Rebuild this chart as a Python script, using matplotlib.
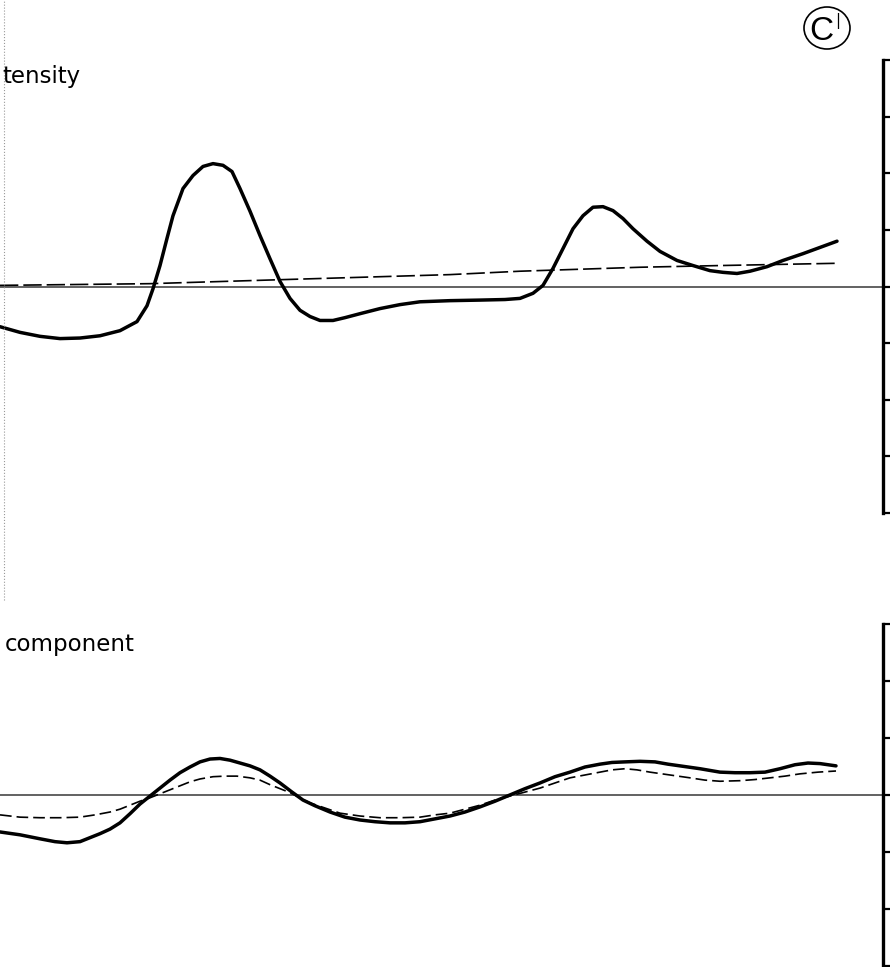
import matplotlib
matplotlib.use("Agg")
import matplotlib.pyplot as plt
from matplotlib.patches import Ellipse

plt.rcParams['font.family'] = ['DejaVu Sans']

# horizontal position along the trace (arbitrary units, 0 .. 883 = axis)
# values in tick units (one tick = 1)

# upper panel: intensity
top_x = [0, 20, 40, 60, 80, 100, 120, 137, 147, 153, 160, 167, 173, 183, 193, 203,
         213, 223, 232, 240, 250, 260, 270, 280, 290, 300, 310, 320, 333, 345, 360,
         380, 400, 420, 450, 480, 505, 520, 533, 543, 553, 563, 573, 583, 593, 603,
         613, 623, 633, 647, 660, 677, 693, 710, 723, 737, 750, 767, 783, 803, 820, 837]
top_solid = [-0.71, -0.81, -0.88, -0.92, -0.91, -0.87, -0.78, -0.62, -0.34, -0.04,
             0.37, 0.85, 1.25, 1.73, 1.96, 2.12, 2.17, 2.14, 2.03, 1.73, 1.33, 0.90,
             0.49, 0.09, -0.21, -0.42, -0.53, -0.60, -0.60, -0.55, -0.48, -0.39, -0.32,
             -0.27, -0.25, -0.24, -0.23, -0.21, -0.12, 0.02, 0.32, 0.67, 1.02, 1.25,
             1.40, 1.41, 1.34, 1.20, 1.02, 0.80, 0.62, 0.46, 0.37, 0.28, 0.25, 0.23,
             0.27, 0.35, 0.46, 0.58, 0.69, 0.80]
top_dash_x = [0, 150, 280, 450, 520, 640, 720, 837]
top_dash = [0.02, 0.05, 0.12, 0.21, 0.27, 0.34, 0.37, 0.41]

# lower panel: component
bot_x = [0, 20, 40, 55, 67, 80, 90, 100, 110, 120, 130, 140, 150, 160, 170, 180, 190,
         200, 210, 220, 230, 240, 250, 260, 270, 280, 292, 303, 315, 330, 345, 360,
         375, 390, 405, 420, 435, 450, 465, 480, 495, 510, 525, 540, 555, 570, 585,
         600, 612, 625, 640, 655, 668, 680, 700, 720, 735, 750, 765, 780, 795, 808,
         820, 836]
bot_solid = [-0.65, -0.70, -0.77, -0.82, -0.84, -0.82, -0.75, -0.68, -0.60, -0.49,
             -0.33, -0.16, -0.02, 0.12, 0.26, 0.39, 0.49, 0.58, 0.63, 0.64, 0.61, 0.56,
             0.51, 0.44, 0.33, 0.21, 0.05, -0.09, -0.19, -0.30, -0.39, -0.44, -0.47,
             -0.49, -0.49, -0.47, -0.42, -0.37, -0.30, -0.21, -0.11, 0.00, 0.11, 0.21,
             0.32, 0.40, 0.49, 0.54, 0.57, 0.58, 0.59, 0.58, 0.54, 0.51, 0.46, 0.40,
             0.39, 0.39, 0.40, 0.46, 0.53, 0.56, 0.55, 0.51]
bot_dash_x = [0, 20, 40, 60, 80, 95, 110, 120, 130, 140, 150, 160, 170, 180, 190, 200,
              213, 225, 237, 250, 260, 270, 280, 290, 300, 310, 325, 340, 360, 380,
              400, 420, 435, 450, 465, 480, 495, 510, 525, 540, 555, 570, 585, 600,
              612, 625, 637, 650, 670, 690, 705, 720, 740, 755, 770, 785, 800, 818, 836]
bot_dash = [-0.35, -0.39, -0.40, -0.40, -0.39, -0.35, -0.30, -0.25, -0.18, -0.11,
            -0.05, 0.02, 0.09, 0.16, 0.23, 0.28, 0.32, 0.33, 0.33, 0.30, 0.26, 0.18,
            0.11, 0.04, -0.05, -0.14, -0.23, -0.32, -0.37, -0.40, -0.40, -0.39, -0.35,
            -0.32, -0.25, -0.18, -0.09, -0.02, 0.05, 0.12, 0.21, 0.30, 0.35, 0.40,
            0.44, 0.46, 0.44, 0.40, 0.35, 0.30, 0.26, 0.24, 0.25, 0.27, 0.30, 0.33,
            0.37, 0.40, 0.42]

fig = plt.figure(figsize=(8.9, 9.67), dpi=100)

W, H = 890.0, 967.0
ax1 = fig.add_axes([0, 1 - 513 / H, 883 / W, 453 / H])
ax2 = fig.add_axes([0, 0, 883 / W, (967 - 624) / H])


def style(ax, lo, hi):
    ax.set_xlim(0, 883)
    ax.set_ylim(lo, hi)
    ax.patch.set_alpha(0)
    for s in ['left', 'top', 'bottom']:
        ax.spines[s].set_visible(False)
    ax.spines['right'].set_linewidth(2.4)
    ax.yaxis.tick_right()
    ax.set_xticks([])
    ax.tick_params(axis='y', direction='out', length=7, width=1.6, labelright=False)
    ax.axhline(0, color='#555555', lw=1.3, zorder=1)


style(ax1, -4, 4)
ax1.set_yticks(range(-4, 5))
ax1.plot(top_x, top_solid, color='black', lw=2.5, solid_capstyle='round',
         solid_joinstyle='round', zorder=3)
ax1.plot(top_dash_x, top_dash, color='black', lw=1.2, dashes=(11, 3), zorder=2)

style(ax2, -3.02, 3.0)
ax2.set_yticks(range(-3, 4))
ax2.plot(bot_x, bot_solid, color='black', lw=2.5, solid_capstyle='round',
         solid_joinstyle='round', zorder=3)
ax2.plot(bot_dash_x, bot_dash, color='black', lw=1.2, dashes=(7, 3), zorder=2)

fig.text(2 / W, 1 - 77 / H, 'tensity', fontsize=16.5, va='center', ha='left')
fig.text(5 / W, 1 - 645 / H, 'component', fontsize=16.5, va='center', ha='left')

# circled panel label
circ = Ellipse((827 / 100, (H - 28) / 100), 0.46, 0.42, transform=fig.dpi_scale_trans,
               fill=False, ec='black', lw=1.2)
fig.add_artist(circ)
fig.text(821 / W, 1 - 31 / H, "C", fontsize=24, ha='center', va='center',
         family='Liberation Sans')
fig.text(838 / W, 1 - 21 / H, "|", fontsize=11, ha='center', va='center')

# faint dotted edge of the original sheet
fig.add_artist(plt.Line2D([4 / W, 4 / W], [1 - 600 / H, 1], transform=fig.transFigure,
                          color='#999999', lw=0.8, ls=':'))

fig.savefig('out.png', dpi=100)
